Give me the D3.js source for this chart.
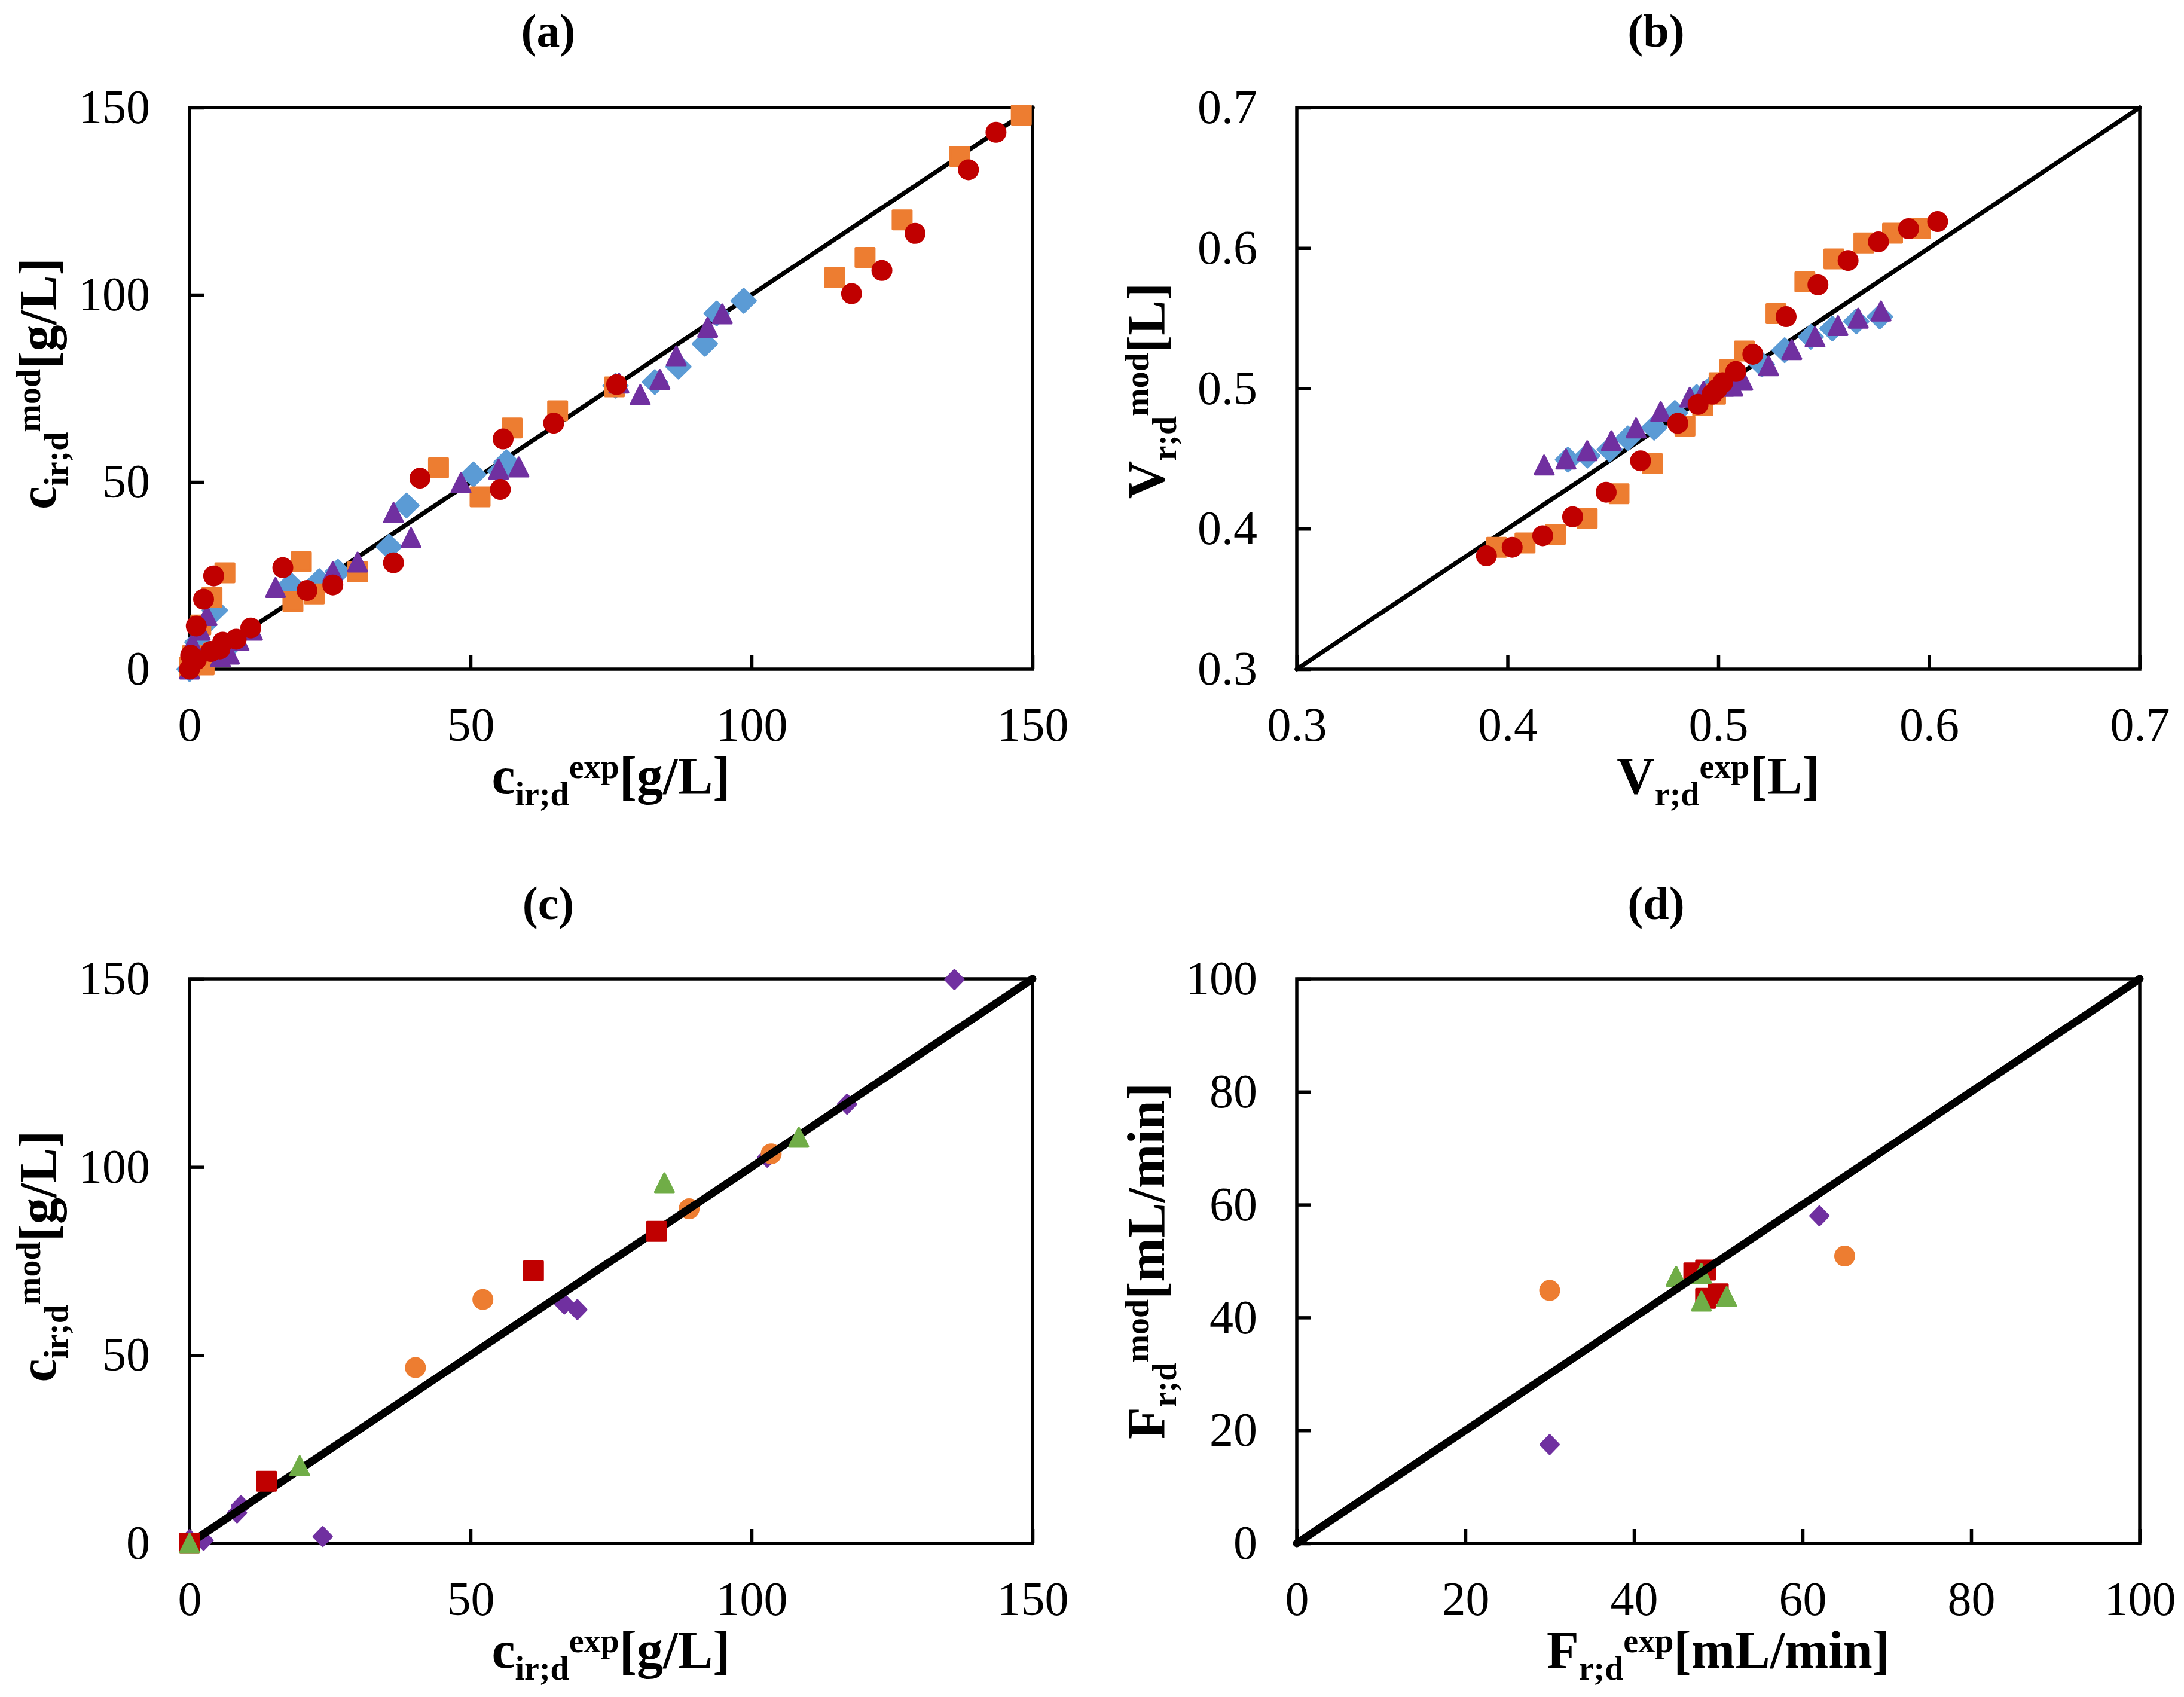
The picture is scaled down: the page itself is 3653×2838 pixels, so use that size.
<!DOCTYPE html>
<html>
<head>
<meta charset="utf-8">
<script src="https://cdn.jsdelivr.net/npm/d3@7"></script>
<style>
  html, body { margin: 0; padding: 0; background: #fff; }
  text { font-family: "Liberation Serif", serif; fill: #000; }
</style>
</head>
<body>
<svg id="chart" width="3653" height="2838"></svg>
<script>
// ---- data, [exp, mod] pairs ----
const aBlue = [[0,0],[1.4,7.2],[2.6,11.8],[4.5,15.7],[3.5,4],[5.5,5],[7,6],[18,22.5],[23.1,23.5],[26.4,26],[35.5,32.7],[38.6,43.7],[50.5,52],[55.3,52.9],[56.4,55.3],[75.8,75.7],[82.8,76.7],[87,80.8],[91.7,86.9],[93.8,95],[98.6,98.4]];
const aOrange = [[0,0.6],[0.5,3.6],[2,11.8],[2.6,1.1],[4,19.2],[4.3,4.3],[6.3,25.7],[18.4,18],[19.9,28.7],[22.2,20.1],[29.9,26],[44.3,53.8],[51.7,46],[57.4,64.4],[65.5,69],[75.6,75.4],[114.8,104.6],[120.2,110],[126.8,120],[137,137],[148,148]];
const aPurple = [[0,0],[0.5,6.9],[1.9,10.4],[3.1,14.3],[5.5,3.3],[7.1,4],[8.8,7.6],[11.2,10.4],[15.3,21.8],[25.5,26],[29.9,28.6],[36.3,41.8],[39.4,35.1],[48.3,49.8],[55,53.4],[58.6,54],[76.4,76.4],[80.2,73.3],[83.7,77.4],[86.6,83.7],[92.2,91.3],[94.8,94.9]];
const aRed = [[0,0],[0.2,3.7],[1.2,2.5],[1.2,11.5],[2.5,18.7],[3.8,4.7],[4.3,24.9],[5.4,5.4],[5.9,7.2],[8.3,8],[10.9,11],[16.6,27.1],[20.9,21],[25.5,22.5],[36.3,28.4],[41,51],[55.3,48],[55.8,61.5],[64.8,65.7],[76,76],[117.8,100.3],[123.2,106.5],[129.1,116.4],[138.6,133.4],[143.5,143.4]];

const bBlue = [[.4287,.4492],[.4379,.4520],[.4485,.4564],[.4571,.4644],[.4696,.4720],[.4794,.4825],[.4897,.4939],[.4975,.5015],[.5069,.5072],[.5207,.5171],[.5315,.5272],[.5439,.5367],[.5542,.5426],[.5655,.5477],[.5767,.5511]];
const bOrange = [[.3948,.3868],[.4083,.3899],[.4227,.3959],[.4378,.4074],[.4529,.4249],[.4688,.4463],[.4842,.4732],[.4926,.4876],[.4987,.4958],[.5004,.5040],[.5055,.5135],[.5124,.5266],[.5274,.5532],[.5411,.5758],[.5549,.5922],[.5691,.6036],[.5827,.6105],[.5958,.6137]];
const bPurple = [[.4174,.4454],[.4277,.4496],[.4378,.4556],[.4493,.4627],[.4610,.4718],[.4727,.4834],[.4865,.4937],[.4930,.4977],[.5026,.5015],[.5069,.5015],[.5116,.5058],[.5239,.5161],[.5349,.5276],[.5459,.5367],[.5568,.5447],[.5664,.5500],[.5772,.5551]];
const bRed = [[.3900,.3807],[.4022,.3868],[.4167,.3950],[.4309,.4085],[.4468,.4260],[.4631,.4484],[.4808,.4751],[.4904,.4886],[.4971,.4958],[.4995,.4996],[.5021,.5040],[.5083,.5120],[.5164,.5243],[.5322,.5511],[.5473,.5738],[.5616,.5911],[.5760,.6044],[.5903,.6137],[.6041,.6188]];

const cPurple = [[0,1],[2.5,0.8],[8.45,8.1],[9.15,10],[23.7,1.8],[66.7,63.6],[69,62.1],[102.8,102.6],[117,116.7],[136.1,149.8]];
const cOrange = [[40.2,46.7],[52.2,64.8],[88.9,88.9],[103.5,103.5]];
const cRed = [[0,0],[13.7,16.5],[61.2,72.4],[83.1,82.9]];
const cGreen = [[0,0],[19.6,20.6],[84.5,95.8],[108.4,107.9]];

const dOrange = [[30,44.8],[65,50.9]];
const dPurple = [[30,17.5],[62,58]];
const dRed = [[47.1,47.9],[48.5,48.4],[50,44.2],[48.5,43.4]];
const dGreen = [[45,47.3],[48,47.8],[48,42.9],[51,43.7]];

const concTicks = [0, 50, 100, 150];
const volTicks = [0.3, 0.4, 0.5, 0.6, 0.7];
const flowTicks = [0, 20, 40, 60, 80, 100];

const colors = { orange: "#ED7D31", red: "#C00000", blue: "#5B9BD5", purple: "#7030A0", green: "#70AD47" };

// marker outlines around 0,0
const shapes = {
  square: "M-15.5,-15.5H15.5V15.5H-15.5Z",
  circle: "M-15.5,0A15.5,15.5 0 1,1 15.5,0A15.5,15.5 0 1,1 -15.5,0Z",
  triangle: "M0,-15.5L15.5,15.5H-15.5Z",
  diamond: "M0,-19.5L20,0L0,19.5L-20,0Z",
  smallDiamond: "M0,-15.5L15,0L0,15.5L-15,0Z"
};

const svg = d3.select("#chart");

const rows = { top: [180, 1119], bottom: [1637, 2581] };
const cols = { left: [317, 1727], right: [2169, 3579] };

function label(g, opts, x, y, rotate) {
  // main text, subscript, superscript, unit
  const t = g.append("text")
    .attr("text-anchor", "middle")
    .attr("font-weight", "bold")
    .attr("font-size", 88)
    .attr("transform", `translate(${x},${y})` + (rotate ? " rotate(-90)" : ""));
  t.append("tspan").text(opts.main);
  t.append("tspan").attr("font-size", 56).attr("dy", 20).text(opts.sub);
  t.append("tspan").attr("font-size", 56).attr("dy", -46).text(opts.sup);
  t.append("tspan").attr("dy", 26).text(opts.unit);
}

function panel(p) {
  const [x0, x1] = p.col, [y0, y1] = p.row;
  const x = d3.scaleLinear().domain(p.domain).range([x0, x1]);
  const y = d3.scaleLinear().domain(p.domain).range([y1, y0]);
  const g = svg.append("g");

  const xAxis = d3.axisBottom(x).tickValues(p.ticks).tickSizeInner(-24).tickSizeOuter(0).tickPadding(63).tickFormat(p.fmt);
  const yAxis = d3.axisLeft(y).tickValues(p.ticks).tickSizeInner(-24).tickSizeOuter(0).tickPadding(66).tickFormat(p.fmt);

  g.append("rect").attr("x", x0).attr("y", y0).attr("width", x1 - x0).attr("height", y1 - y0)
    .attr("fill", "none").attr("stroke", "#000").attr("stroke-width", 5.5);

  [g.append("g").attr("transform", `translate(0,${y1})`).call(xAxis),
   g.append("g").attr("transform", `translate(${x0},0)`).call(yAxis)].forEach(a => {
    a.select(".domain").remove();
    a.selectAll("line").attr("stroke", "#000").attr("stroke-width", 5.5);
    a.selectAll("text").attr("font-size", 80).attr("font-family", "Liberation Serif").attr("fill", "#000");
  });

  const drawLine = () => g.append("line")
    .attr("x1", x(p.domain[0])).attr("y1", y(p.domain[0]))
    .attr("x2", x(p.domain[1])).attr("y2", y(p.domain[1]))
    .attr("stroke", "#000").attr("stroke-width", p.lineWidth).attr("stroke-linecap", "round");

  p.layers.forEach(l => {
    if (l === "line") { drawLine(); return; }
    g.append("g").selectAll("path").data(l.data).join("path")
      .attr("d", shapes[l.shape])
      .attr("transform", d => `translate(${x(d[0])},${y(d[1])})`)
      .attr("fill", l.color).attr("stroke", l.color)
      .attr("stroke-width", 4).attr("stroke-linejoin", "round");
  });

  g.append("text").attr("x", p.titleX).attr("y", p.titleY)
    .attr("text-anchor", "middle").attr("font-weight", "bold").attr("font-size", 78).text(p.title);

  label(g, p.xLabel, (x0 + x1) / 2, y1 + 208, false);
  label(g, p.yLabel, x0 - p.yLabelGap, (y0 + y1) / 2 + p.yLabelShift, true);
}

const cx = { main: "c", sub: "ir;d", sup: "exp", unit: "[g/L]" };
const cy = { main: "c", sub: "ir;d", sup: "mod", unit: "[g/L]" };
const fmt0 = d3.format("d"), fmt1 = d3.format(".1f");

panel({
  title: "(a)", titleX: 917, titleY: 78, col: cols.left, row: rows.top,
  domain: [0, 150], ticks: concTicks, fmt: fmt0, lineWidth: 7.5, xLabel: cx, yLabel: cy,
  yLabelGap: 224, yLabelShift: -8,
  layers: ["line",
    { data: aBlue, shape: "diamond", color: colors.blue },
    { data: aOrange, shape: "square", color: colors.orange },
    { data: aPurple, shape: "triangle", color: colors.purple },
    { data: aRed, shape: "circle", color: colors.red }]
});

panel({
  title: "(b)", titleX: 2770, titleY: 78, col: cols.right, row: rows.top,
  domain: [0.3, 0.7], ticks: volTicks, fmt: fmt1, lineWidth: 7.5,
  xLabel: { main: "V", sub: "r;d", sup: "exp", unit: "[L]" },
  yLabel: { main: "V", sub: "r;d", sup: "mod", unit: "[L]" },
  yLabelGap: 222, yLabelShift: 4,
  layers: ["line",
    { data: bBlue, shape: "diamond", color: colors.blue },
    { data: bOrange, shape: "square", color: colors.orange },
    { data: bPurple, shape: "triangle", color: colors.purple },
    { data: bRed, shape: "circle", color: colors.red }]
});

panel({
  title: "(c)", titleX: 917, titleY: 1537, col: cols.left, row: rows.bottom,
  domain: [0, 150], ticks: concTicks, fmt: fmt0, lineWidth: 13, xLabel: cx, yLabel: cy,
  yLabelGap: 224, yLabelShift: -8,
  layers: [
    { data: cPurple, shape: "smallDiamond", color: colors.purple },
    { data: cOrange, shape: "circle", color: colors.orange },
    "line",
    { data: cRed, shape: "square", color: colors.red },
    { data: cGreen, shape: "triangle", color: colors.green }]
});

panel({
  title: "(d)", titleX: 2770, titleY: 1537, col: cols.right, row: rows.bottom,
  domain: [0, 100], ticks: flowTicks, fmt: fmt0, lineWidth: 13,
  xLabel: { main: "F", sub: "r;d", sup: "exp", unit: "[mL/min]" },
  yLabel: { main: "F", sub: "r;d", sup: "mod", unit: "[mL/min]" },
  yLabelGap: 222, yLabelShift: 0,
  layers: [
    { data: dOrange, shape: "circle", color: colors.orange },
    { data: dPurple, shape: "smallDiamond", color: colors.purple },
    { data: dRed, shape: "square", color: colors.red },
    { data: dGreen, shape: "triangle", color: colors.green },
    "line"]
});
</script>
</body>
</html>
